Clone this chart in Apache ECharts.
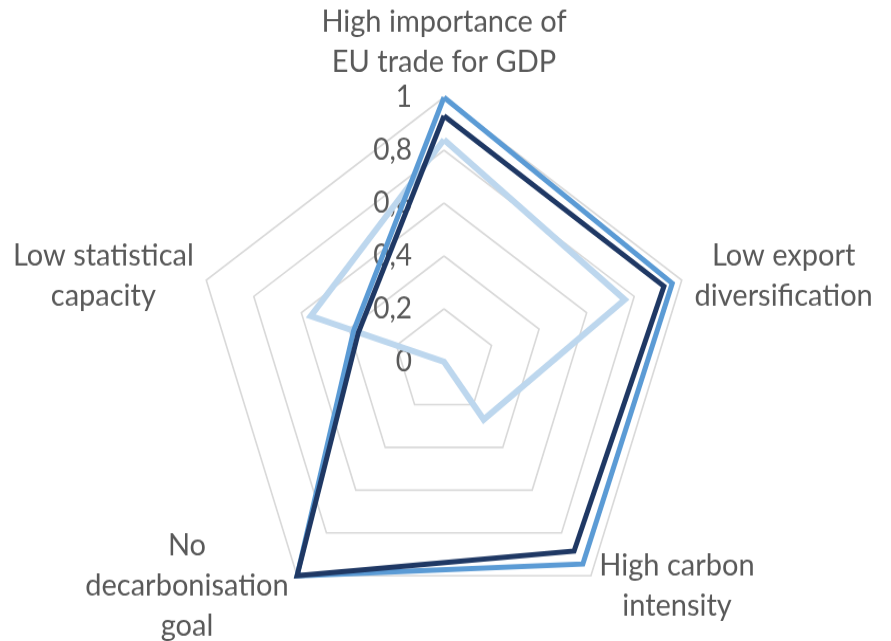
<!DOCTYPE html>
<html>
<head>
<meta charset="utf-8">
<script src="https://cdn.jsdelivr.net/npm/echarts@6/dist/echarts.min.js"></script>
<style>
  html, body { margin: 0; padding: 0; background: #ffffff; width: 891px; height: 641px; }
  #wrap { width: 891px; height: 641px; position: relative; overflow: visible; }
  #chart { position: absolute; left: 0; top: 0; width: 891px; height: 606px;
           transform: scaleY(1.0578); transform-origin: 0 0; }
</style>
</head>
<body>
<div id="wrap"><div id="chart"></div></div>
<script>
// Indicators, listed clockwise from the top
const categories = [
  'High importance of\nEU trade for GDP',
  'Low export\ndiversification',
  'High carbon\nintensity',
  'No\ndecarbonisation\ngoal',
  'Low statistical\ncapacity'
];
const tickLabels = ['0', '0,2', '0,4', '0,6', '0,8', '1'];

// Scores per indicator (same clockwise order)
const seriesLight  = [0.84, 0.76, 0.27, 0.00, 0.56];
const seriesMedium = [1.00, 0.96, 0.945, 1.00, 0.38];
const seriesDark   = [0.93, 0.925, 0.885, 1.00, 0.36];

const textColor = '#595959';
const fontFamily = 'Lato, "Open Sans", sans-serif';
const fontSize = 29;

// ECharts lays radar axes out counter-clockwise; reorder to read clockwise
const order = [0, 4, 3, 2, 1];
const reorder = arr => order.map(i => arr[i]);

// Each name block gets its own rich style so its lines are centred on each other
const measureCtx = document.createElement('canvas').getContext('2d');
measureCtx.font = fontSize + 'px ' + fontFamily;
const rich = {};
categories.forEach((name, i) => {
  const w = Math.max(...name.split('\n').map(l => measureCtx.measureText(l).width));
  rich['n' + i] = {
    width: Math.ceil(w) + 2, align: 'center',
    color: textColor, fontFamily: fontFamily, fontSize: fontSize, lineHeight: 38
  };
});

const chart = echarts.init(document.getElementById('chart'), null, { renderer: 'canvas' });

chart.setOption({
  animation: false,
  backgroundColor: '#ffffff',
  radar: {
    center: [444, 342],
    radius: 250,
    startAngle: 90,
    splitNumber: 5,
    shape: 'polygon',
    axisNameGap: 12,
    axisName: {
      color: textColor,
      fontFamily: fontFamily,
      fontSize: fontSize,
      lineHeight: 38,
      formatter: function (name) {
        const i = categories.indexOf(name);
        return name.split('\n').map(l => '{n' + i + '|' + l + '}').join('\n');
      },
      rich: rich
    },
    axisLine: { show: false },
    axisTick: { show: false },
    splitArea: { show: false },
    splitLine: { lineStyle: { color: '#D9D9D9', width: 1.6 } },
    axisLabel: {
      show: false,
      color: textColor,
      fontFamily: fontFamily,
      fontSize: 28,
      margin: 32,
      formatter: v => tickLabels[Math.round(v * 5)]
    },
    indicator: order.map(i => {
      const ind = { name: categories[i], min: 0, max: 1 };
      if (i === 0) ind.axisLabel = { show: true };
      return ind;
    })
  },
  series: [{
    type: 'radar',
    symbol: 'none',
    silent: true,
    data: [
      { name: 'Light', value: reorder(seriesLight),
        lineStyle: { color: '#BDD7EE', width: 6, join: 'miter' } },
      { name: 'Medium', value: reorder(seriesMedium),
        lineStyle: { color: '#5B9BD5', width: 5, join: 'miter' } },
      { name: 'Dark', value: reorder(seriesDark),
        lineStyle: { color: '#1F3864', width: 5, join: 'miter' } }
    ]
  }]
});
</script>
</body>
</html>
